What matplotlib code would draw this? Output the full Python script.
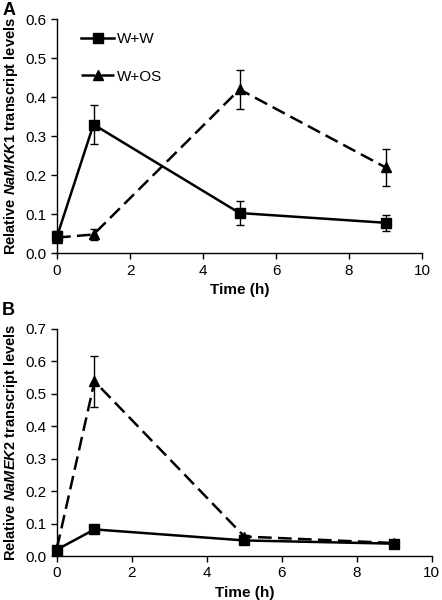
import matplotlib
matplotlib.use("Agg")
import matplotlib.pyplot as plt
from matplotlib.lines import Line2D

plt.rcParams['font.family'] = ['Liberation Sans', 'DejaVu Sans']
plt.rcParams['mathtext.fontset'] = 'custom'
plt.rcParams['mathtext.it'] = 'Liberation Sans:bold:italic'
plt.rcParams['mathtext.rm'] = 'Liberation Sans:bold'

time_h = [0, 1, 5, 9]

# Panel A: NaMKK1
a_ww = [0.043, 0.330, 0.103, 0.078]
a_ww_err = [0.015, 0.050, 0.030, 0.020]
a_os = [0.040, 0.048, 0.420, 0.220]
a_os_err = [0.012, 0.015, 0.050, 0.048]

# Panel B: NaMEK2
b_ww = [0.020, 0.082, 0.048, 0.038]
b_ww_err = [0.005, 0.005, 0.005, 0.004]
b_os = [0.025, 0.538, 0.060, 0.040]
b_os_err = [0.005, 0.078, 0.005, 0.004]

series_labels = ["W+W", "W+OS"]
x_ticks = [0, 2, 4, 6, 8, 10]

fig = plt.figure(figsize=(4.42, 6.0), dpi=100)
axA = fig.add_axes([0.129, 0.578, 0.826, 0.390])
axB = fig.add_axes([0.129, 0.0733, 0.848, 0.3787])

DASH = (0, (5.5, 2.5))

def style(ax, ymax, ylabel_gene):
    ax.set_xlim(0, 10)
    ax.set_ylim(0, ymax)
    ax.set_xticks(x_ticks)
    ax.spines['top'].set_visible(False)
    ax.spines['right'].set_visible(False)
    for s in ['left', 'bottom']:
        ax.spines[s].set_linewidth(1.0)
    ax.tick_params(direction='out', length=4, width=1.0, labelsize=11)
    ax.set_xlabel("Time (h)", fontsize=11, fontweight='bold', labelpad=4)
    ax.set_ylabel("Relative $\\mathit{" + ylabel_gene + "}$ transcript levels",
                  fontsize=10.5, fontweight='bold', labelpad=4)

def draw(ax, ww, ww_err, os_, os_err):
    ax.errorbar(time_h, os_, yerr=os_err, color='black', lw=1.8,
                linestyle=DASH, marker='^', markersize=7,
                capsize=3, elinewidth=1.0, capthick=1.0, clip_on=False)
    ax.errorbar(time_h, ww, yerr=ww_err, color='black', lw=1.8,
                linestyle='-', marker='s', markersize=7,
                capsize=3, elinewidth=1.0, capthick=1.0, clip_on=False)

draw(axA, a_ww, a_ww_err, a_os, a_os_err)
draw(axB, b_ww, b_ww_err, b_os, b_os_err)

axA.set_yticks([0.0, 0.1, 0.2, 0.3, 0.4, 0.5, 0.6])
axA.set_yticklabels(["0.0", "0.1", "0.2", "0.3", "0.4", "0.5", "0.6"])
axB.set_yticks([0.0, 0.1, 0.2, 0.3, 0.4, 0.5, 0.6, 0.7])
axB.set_yticklabels(["0.0", "0.1", "0.2", "0.3", "0.4", "0.5", "0.6", "0.7"])

style(axA, 0.6, "NaMKK1")
style(axB, 0.7, "NaMEK2")

handles = [Line2D([], [], color='black', lw=1.8, linestyle='-', marker='s', markersize=7),
           Line2D([], [], color='black', lw=1.8, linestyle=DASH, marker='^', markersize=7)]
axA.legend(handles, series_labels, loc='upper left', bbox_to_anchor=(0.065, 0.945),
           frameon=False, fontsize=11, handlelength=2.2, labelspacing=1.55,
           handletextpad=0.15, borderpad=0, borderaxespad=0)

fig.text(0.005, 0.997, "A", fontsize=13, fontweight='bold', va='top', ha='left')
fig.text(0.005, 0.497, "B", fontsize=13, fontweight='bold', va='top', ha='left')

fig.savefig("out.png", dpi=100)
